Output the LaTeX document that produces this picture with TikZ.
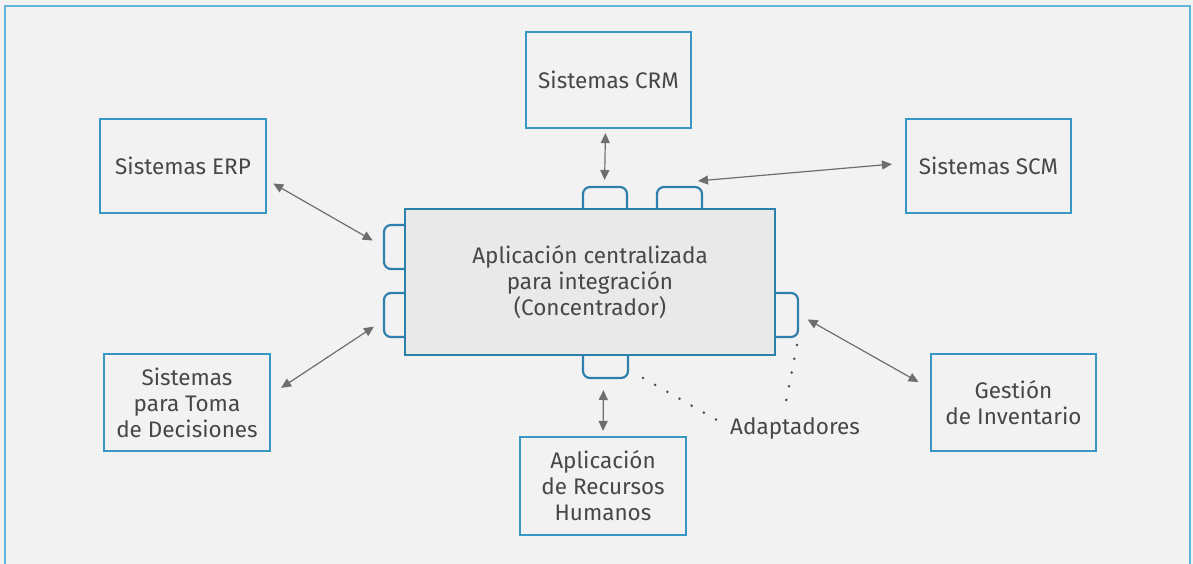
\documentclass[tikz,border=0pt]{standalone}
\usepackage{fontspec}
\setmainfont{Fira Sans}
\usetikzlibrary{arrows.meta}
\definecolor{bgGray}{HTML}{F2F2F2}
\definecolor{hubGray}{HTML}{E9E9E9}
\definecolor{boxBlue}{HTML}{3796C4}
\definecolor{hubBlue}{HTML}{2F7FAB}
\definecolor{frameBlue}{HTML}{62B4DC}
\definecolor{txtGray}{HTML}{474747}
\definecolor{arrGray}{HTML}{6E6E6E}
\tikzset{
  sysbox/.style = {draw=boxBlue, line width=2.2pt, fill=bgGray,
                   minimum width=#1, inner sep=0pt, align=center,
                   text=txtGray, font=\fontsize{22.5}{26}\selectfont},
  sysbox/.default = 166pt,
  tab/.style = {inner sep=0pt, outer sep=0pt},
  tabline/.style = {draw=hubBlue, line width=2.2pt, rounded corners=7pt},
  link/.style = {draw=arrGray, line width=1.2pt,
                 {Triangle[length=10pt,width=9pt]}-{Triangle[length=10pt,width=9pt]}},
  dots/.style = {draw=txtGray, line width=2.8pt, line cap=round,
                 dash pattern=on 0pt off 14pt}
}
\begin{document}
\begin{tikzpicture}[x=1pt,y=-1pt]
	\useasboundingbox (0,0) rectangle (1193,564);
	\fill[bgGray] (0,0) rectangle (1193,564);
	
	% Frame
	\draw[frameBlue, line width=2.5pt] (5,566) -- (5,6) -- (1190,6) -- (1190,566);
	
	% Tabs (adapters)
	\node[tab, minimum width=44pt, minimum height=22pt] (tabT1) at (605,198) {};
	\node[tab, minimum width=45pt, minimum height=22pt] (tabT2) at (679.5,198) {};
	\node[tab, minimum width=22pt, minimum height=44pt] (tabL1) at (395,247) {};
	\node[tab, minimum width=22pt, minimum height=44pt] (tabL2) at (395,315) {};
	\node[tab, minimum width=23pt, minimum height=44pt] (tabR) at (786.5,315) {};
	\node[tab, minimum width=45pt, minimum height=23pt] (tabB) at (605.5,366.5) {};
	\draw[tabline] (tabT1.south west) -- (tabT1.north west) -- (tabT1.north east) -- (tabT1.south east);
	\draw[tabline] (tabT2.south west) -- (tabT2.north west) -- (tabT2.north east) -- (tabT2.south east);
	\draw[tabline] (tabL1.north east) -- (tabL1.north west) -- (tabL1.south west) -- (tabL1.south east);
	\draw[tabline] (tabL2.north east) -- (tabL2.north west) -- (tabL2.south west) -- (tabL2.south east);
	\draw[tabline] (tabR.north west) -- (tabR.north east) -- (tabR.south east) -- (tabR.south west);
	\draw[tabline] (tabB.north west) -- (tabB.south west) -- (tabB.south east) -- (tabB.north east);
	
	% Hub
	\node[sysbox=370pt, draw=hubBlue, fill=hubGray, minimum height=146pt] (hub) at (590,282)
		{Aplicación centralizada\\para integración\\(Concentrador)};
	
	% Systems
	\node[sysbox=165pt, minimum height=96pt] (crm) at (608.5,80) {Sistemas CRM};
	\node[sysbox, minimum height=94pt] (erp) at (183,166) {Sistemas ERP};
	\node[sysbox=165pt, minimum height=94pt] (scm) at (988.5,166) {Sistemas SCM};
	\node[sysbox, minimum height=97pt] (dec) at (187,402.5) {Sistemas\\para Toma\\de Decisiones};
	\node[sysbox, minimum height=98pt] (rrhh) at (603,486) {Aplicación\\de Recursos\\Humanos};
	\node[sysbox=165pt, minimum height=97pt] (inv) at (1013.5,402.5) {Gestión\\de Inventario};
	
	% Label
	\node[text=txtGray, font=\fontsize{22.5}{26}\selectfont] (adapt) at (795,428) {Adaptadores};
	
	% Links
	\draw[link, shorten <=4pt, shorten >=7pt] ([xshift=-3pt]crm.south) -- ([xshift=-0.5pt]tabT1.north);
	\draw[link, shorten <=1pt, shorten >=13pt] ([xshift=-5pt,yshift=6pt]tabT2.north east) -- ([yshift=3pt]scm.west);
	\draw[link, shorten <=7pt, shorten >=13pt] ([yshift=-14pt]erp.east) -- (tabL1.west);
	\draw[link, shorten <=12pt, shorten >=12pt] ([yshift=8pt]dec.east) -- ([yshift=-5pt]tabL2.west);
	\draw[link, shorten <=12pt, shorten >=5pt] ([xshift=-2pt]tabB.south) -- (rrhh.north);
	\draw[link, shorten <=11pt, shorten >=13pt] ([yshift=1pt]tabR.east) -- ([yshift=14pt]inv.west);
	
	% Dotted pointers
	\draw[dots] (643,378) -- (717,420);
	\draw[dots] (797,345) -- (784,412);
\end{tikzpicture}
\end{document}
